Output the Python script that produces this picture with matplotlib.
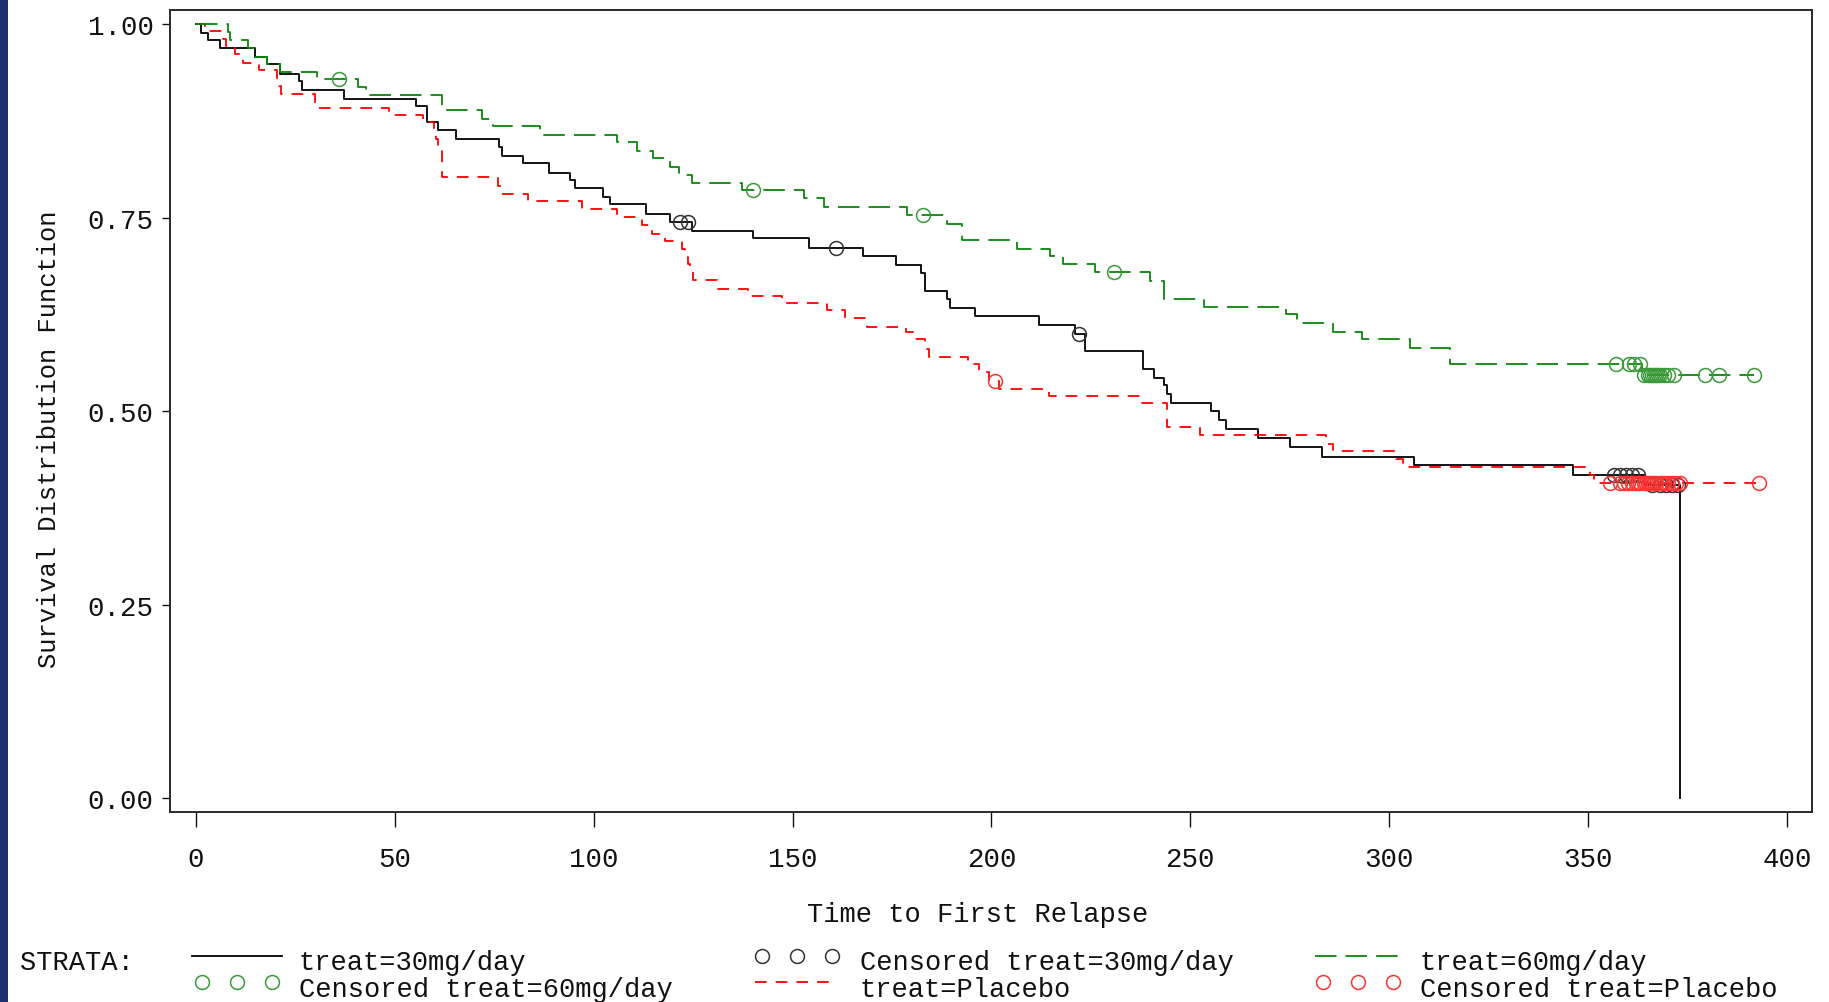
import numpy as np
import matplotlib
matplotlib.use("Agg")
import matplotlib.pyplot as plt
from matplotlib.patches import Rectangle

# ---------------- data ----------------
# treat=30mg/day : event times and survival after each event
t30_event = [1.2, 3.1, 6.0, 14.8, 17.9, 21.1, 25.9, 26.8, 37.2, 55.3, 58.0, 61.0, 65.3,
             76.2, 76.9, 82.3, 88.9, 94.1, 95.2, 102.3, 104.1, 113.1, 119.2, 124.7,
             140.0, 154.2, 167.8, 176.0, 182.3, 183.2, 188.8, 189.6, 195.9, 212.0,
             221.1, 223.6, 238.1, 240.9, 243.3, 244.1, 245.1, 255.2, 257.1, 259.1,
             266.9, 275.0, 283.1, 306.3, 346.2, 364.0, 373.1]
s30_event = [0.989, 0.979, 0.969, 0.958, 0.948, 0.936, 0.927, 0.915, 0.903, 0.894, 0.873,
             0.863, 0.852, 0.841, 0.829, 0.820, 0.808, 0.799, 0.788, 0.777, 0.767, 0.755,
             0.744, 0.732, 0.723, 0.711, 0.700, 0.689, 0.678, 0.655, 0.645, 0.633, 0.623,
             0.611, 0.600, 0.577, 0.554, 0.543, 0.533, 0.522, 0.510, 0.500, 0.488, 0.477,
             0.465, 0.453, 0.441, 0.430, 0.418, 0.405, 0.0]
t30_cens = [121.7, 123.6, 161.0, 221.9, 356.5, 358.0, 359.5, 361.0, 362.5,
            366.0, 368.0, 369.5, 371.0, 372.5]

# treat=60mg/day
t60_event = [8.1, 8.5, 13.2, 14.6, 17.9, 21.1, 30.4, 40.8, 42.7, 61.8, 71.9, 74.8, 86.5,
             105.8, 110.8, 115.0, 119.2, 121.5, 124.7, 137.2, 152.8, 157.8, 178.7, 188.8,
             192.5, 206.4, 214.8, 218.1, 226.1, 239.9, 243.3, 253.4, 274.1, 276.8, 286.0,
             293.2, 305.3, 315.4, 363.5]
s60_event = [0.990, 0.979, 0.969, 0.958, 0.948, 0.938, 0.929, 0.918, 0.908, 0.889, 0.877,
             0.868, 0.857, 0.847, 0.836, 0.827, 0.815, 0.805, 0.795, 0.786, 0.775, 0.763,
             0.753, 0.742, 0.721, 0.709, 0.700, 0.690, 0.679, 0.668, 0.645, 0.635, 0.625,
             0.614, 0.602, 0.593, 0.581, 0.561, 0.547]
t60_cens = [36.0, 140.0, 182.9, 230.9, 356.9, 360.2, 361.5, 363.1, 364.0, 365.0, 365.5,
            366.0, 366.5, 367.0, 367.5, 368.0, 369.0, 370.0, 371.5, 379.5, 382.8, 391.6]

# treat=Placebo
tpl_event = [2.3, 6.9, 7.7, 9.8, 11.9, 15.8, 20.5, 20.9, 21.5, 29.9, 48.6, 57.2, 59.9,
             60.4, 61.0, 61.8, 76.0, 76.8, 83.6, 97.0, 105.8, 112.1, 114.8, 118.0, 122.2,
             123.0, 123.6, 124.3, 125.0, 131.0, 138.9, 147.3, 158.6, 163.2, 168.7, 178.6,
             180.8, 183.2, 184.2, 194.2, 196.8, 199.5, 202.0, 214.4, 237.8, 244.1, 252.4,
             284.0, 285.9, 301.8, 303.6, 350.6, 351.5]
spl_event = [0.991, 0.981, 0.971, 0.961, 0.950, 0.940, 0.929, 0.920, 0.910, 0.891, 0.882,
             0.873, 0.862, 0.851, 0.841, 0.802, 0.791, 0.780, 0.772, 0.761, 0.751, 0.740,
             0.729, 0.720, 0.709, 0.699, 0.690, 0.680, 0.669, 0.658, 0.649, 0.640, 0.630,
             0.620, 0.609, 0.602, 0.593, 0.580, 0.570, 0.561, 0.550, 0.539, 0.529, 0.520,
             0.511, 0.479, 0.469, 0.458, 0.448, 0.438, 0.428, 0.418, 0.407]
tpl_cens = [201.0, 355.6, 358.0, 359.0, 360.0, 361.0, 362.0, 362.5, 363.0, 364.0, 364.5,
            365.0, 365.5, 366.0, 366.5, 367.0, 368.0, 368.5, 369.0, 370.0, 371.0, 372.0,
            373.0, 393.1]

x_ticks = [0, 50, 100, 150, 200, 250, 300, 350, 400]
y_ticks = [0.00, 0.25, 0.50, 0.75, 1.00]
y_tick_labels = ["0.00", "0.25", "0.50", "0.75", "1.00"]

# ---------------- styling ----------------
plt.rcParams['font.family'] = ['Liberation Mono', 'DejaVu Sans Mono']
plt.rcParams['lines.scale_dashes'] = False

C_BLACK = '#000000'
C_GREEN = '#0a870a'
C_RED = '#ff0000'
CC_BLACK = '#333333'
CC_GREEN = '#3a9a3a'
CC_RED = '#ff3333'
DASH_GREEN = (0, (15.5, 6.5))
DASH_RED = (0, (8.4, 6.5))
LW = 1.3
MS = 10
MEW = 1.1
FS_TICK = 19.8
FS_XLAB = 19.5
FS_YLAB = 18.4
FS_LEG = 19.5
TXT = '#111111'

W, H = 1829, 1003
fig = plt.figure(figsize=(W / 100, H / 100), dpi=100)
fig.patch.set_facecolor('white')

# overlay axes in pixel coordinates (for strip + legend)
lax = fig.add_axes([0, 0, 1, 1])
lax.set_xlim(0, W)
lax.set_ylim(H, 0)
lax.axis('off')
lax.add_patch(Rectangle((0, 0), 8, H, color='#1d3170', lw=0))

ax = fig.add_axes([170 / W, 1 - 813 / H, (1812 - 170) / W, (813 - 10.7) / H])
ax.set_xlim(-6.5, 406.3)
ax.set_ylim(-0.018, 1.0185)


def km_curve(te, se, tc):
    x = [0.0] + list(te)
    y = [1.0] + list(se)
    last_c = max(tc) if len(tc) else 0
    if last_c > x[-1]:
        x.append(last_c)
        y.append(y[-1])
    return np.array(x), np.array(y)


def km_at(te, se, t):
    te = np.asarray(te)
    se = np.asarray(se)
    idx = np.searchsorted(te, t, side='right') - 1
    return np.where(idx >= 0, se[np.clip(idx, 0, None)], 1.0)


groups = [
    (t30_event, s30_event, t30_cens, C_BLACK, '-', CC_BLACK),
    (tpl_event, spl_event, tpl_cens, C_RED, DASH_RED, CC_RED),
    (t60_event, s60_event, t60_cens, C_GREEN, DASH_GREEN, CC_GREEN),
]

for te, se, tc, col, ls, ccol in groups:
    x, y = km_curve(te, se, tc)
    ax.step(x, y, where='post', color=col, lw=LW, linestyle=ls, zorder=3)
for te, se, tc, col, ls, ccol in groups:
    cy = km_at(te, se, np.asarray(tc))
    ax.plot(tc, cy, linestyle='none', marker='o', ms=MS, mfc='none',
            mec=ccol, mew=MEW, zorder=4)

ax.set_xticks(x_ticks)
ax.set_xticklabels([str(v) for v in x_ticks], fontsize=FS_TICK)
ax.set_yticks(y_ticks)
ax.set_yticklabels(y_tick_labels, fontsize=FS_TICK)
ax.tick_params(axis='x', direction='out', length=10.8, width=1.0, pad=13.5, colors=TXT)
ax.tick_params(axis='y', direction='out', length=5.8, width=1.0, pad=6, colors=TXT)
for sp in ax.spines.values():
    sp.set_linewidth(1.4)
    sp.set_color('#2a2a2a')

fig.text(49 / W, 1 - 439 / H, 'Survival Distribution Function', rotation=90,
         ha='center', va='center', fontsize=FS_YLAB, color=TXT)
fig.text(977.5 / W, 1 - 914.6 / H, 'Time to First Relapse',
         ha='center', va='center', fontsize=FS_XLAB, color=TXT)

# ---------------- legend ----------------
r1_line, r1_text = 956.5, 963.5
r2_line, r2_text = 983.0, 990.0
lax.text(20, r1_text, 'STRATA:', ha='left', va='center', fontsize=FS_LEG, color=TXT)

lax.plot([192, 282], [r1_line, r1_line], color=C_BLACK, lw=LW)
lax.text(298.6, r1_text, 'treat=30mg/day', ha='left', va='center', fontsize=FS_LEG, color=TXT)

lax.plot([762, 797, 832], [r1_line] * 3, linestyle='none', marker='o', ms=MS,
         mfc='none', mec=CC_BLACK, mew=MEW)
lax.text(859.7, r1_text, 'Censored treat=30mg/day', ha='left', va='center', fontsize=FS_LEG, color=TXT)

lax.plot([1314.6, 1397.5], [r1_line, r1_line], color=C_GREEN, lw=LW, linestyle=DASH_GREEN)
lax.text(1419.6, r1_text, 'treat=60mg/day', ha='left', va='center', fontsize=FS_LEG, color=TXT)

lax.plot([201.8, 236.8, 271.8], [r2_line] * 3, linestyle='none', marker='o', ms=MS,
         mfc='none', mec=CC_GREEN, mew=MEW)
lax.text(298.6, r2_text, 'Censored treat=60mg/day', ha='left', va='center', fontsize=FS_LEG, color=TXT)

lax.plot([754.7, 835], [r2_line, r2_line], color=C_RED, lw=LW, linestyle=DASH_RED)
lax.text(859.7, r2_text, 'treat=Placebo', ha='left', va='center', fontsize=FS_LEG, color=TXT)

lax.plot([1322.8, 1357.8, 1392.8], [r2_line] * 3, linestyle='none', marker='o', ms=MS,
         mfc='none', mec=CC_RED, mew=MEW)
lax.text(1419.6, r2_text, 'Censored treat=Placebo', ha='left', va='center', fontsize=FS_LEG, color=TXT)

fig.savefig('out.png', dpi=100, facecolor='white')
